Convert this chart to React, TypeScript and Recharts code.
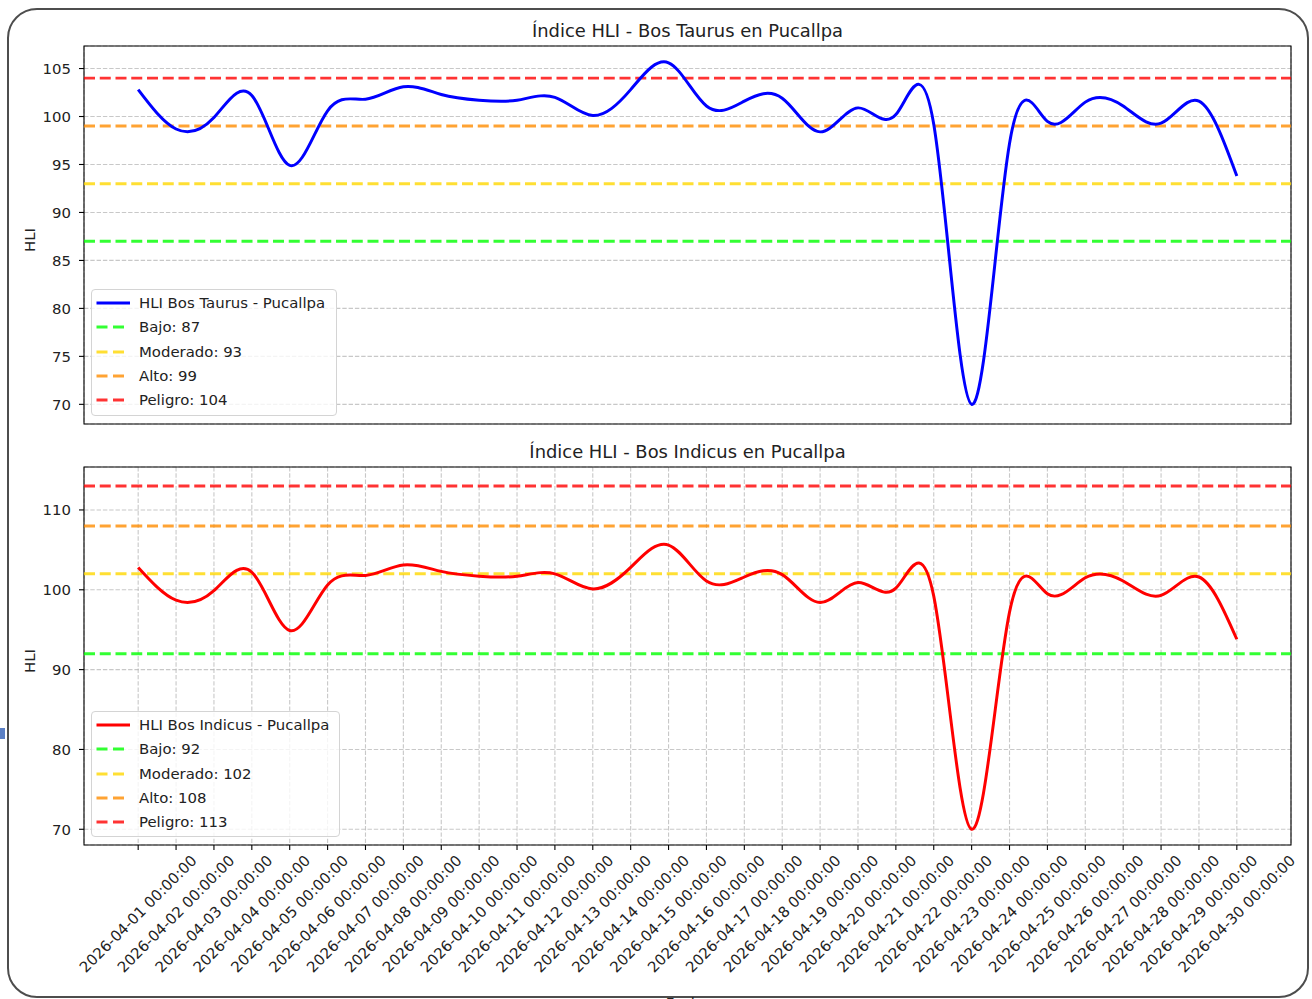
import { CartesianGrid, Legend, Line, LineChart, ReferenceArea, ReferenceLine, XAxis, YAxis } from "recharts";

const FONT = "'DejaVu Sans', sans-serif";

const dates = [
  "2026-04-01", "2026-04-02", "2026-04-03", "2026-04-04", "2026-04-05", "2026-04-06",
  "2026-04-07", "2026-04-08", "2026-04-09", "2026-04-10", "2026-04-11", "2026-04-12",
  "2026-04-13", "2026-04-14", "2026-04-15", "2026-04-16", "2026-04-17", "2026-04-18",
  "2026-04-19", "2026-04-20", "2026-04-21", "2026-04-22", "2026-04-23", "2026-04-24",
  "2026-04-25", "2026-04-26", "2026-04-27", "2026-04-28", "2026-04-29", "2026-04-30",
];

// daily HLI (both panels show the same series)
const hliTaurus = [
  102.8, 98.7, 99.9, 102.2, 94.9, 100.6, 101.8, 103.1, 102.3, 101.7,
  101.7, 102.0, 100.1, 102.8, 105.6, 101.1, 101.6, 101.9, 98.4, 100.9,
  100.2, 99.2, 70.0, 97.2, 99.5, 101.5, 101.1, 99.3, 101.6, 93.8,
];
const hliIndicus = [
  102.8, 98.7, 99.9, 102.2, 94.9, 100.6, 101.8, 103.1, 102.3, 101.7,
  101.7, 102.0, 100.1, 102.8, 105.6, 101.1, 101.6, 101.9, 98.4, 100.9,
  100.2, 99.2, 70.0, 97.2, 99.5, 101.5, 101.1, 99.3, 101.6, 93.8,
];

const levelNames = ["Bajo", "Moderado", "Alto", "Peligro"];
const levelColors = ["#00ff00", "#ffd700", "#ff8c00", "#ff0000"];
const taurusLimits = [87, 93, 99, 104];
const indicusLimits = [92, 102, 108, 113];

const taurusTicks = [70, 75, 80, 85, 90, 95, 100, 105];
const indicusTicks = [70, 80, 90, 100, 110];

const rows = dates.map((d, i) => ({ i, date: d, taurus: hliTaurus[i], indicus: hliIndicus[i] }));
const xTicks = dates.map((_, i) => i);
const X_DOMAIN: [number, number] = [-1.43, 30.43];

function DateTick(props: any) {
  const { x, y, payload } = props;
  const label = `${dates[payload.value]} 00:00:00`;
  return (
    <text
      transform={`translate(${x}, ${y + 64}) rotate(-45)`}
      textAnchor="middle"
      dominantBaseline="central"
      fontFamily={FONT}
      fontSize={14.9}
      fill="#222"
    >
      {label}
    </text>
  );
}

function legendContent(name: string, color: string, limits: number[], width: number, height: number) {
  const entries = [
    { text: name, color, dashed: false },
    ...limits.map((v, k) => ({ text: `${levelNames[k]}: ${v}`, color: levelColors[k], dashed: true })),
  ];
  return () => (
    <div
      style={{
        boxSizing: "border-box",
        width,
        height,
        border: "1px solid #d4d4d4",
        borderRadius: 4,
        background: "rgba(255,255,255,0.8)",
        fontFamily: FONT,
        fontSize: 14.9,
        color: "#222",
        paddingTop: 1,
      }}
    >
      {entries.map((e) => (
        <div key={e.text} style={{ display: "flex", alignItems: "center", height: 24.3 }}>
          <svg width={47} height={24} style={{ flex: "none" }}>
            <line
              x1={4.5}
              x2={e.dashed ? 33 : 38}
              y1={12}
              y2={12}
              stroke={e.color}
              strokeOpacity={e.dashed ? 0.8 : 1}
              strokeWidth={2.97}
              strokeDasharray={e.dashed ? "11 5.5" : undefined}
            />
          </svg>
          <span style={{ whiteSpace: "nowrap" }}>{e.text}</span>
        </div>
      ))}
    </div>
  );
}

type PanelProps = {
  top: number;
  height: number;
  marginTop: number;
  xHeight: number;
  dataKey: string;
  name: string;
  color: string;
  limits: number[];
  yDomain: [number, number];
  yTicks: number[];
  legendTop: number;
  legendWidth: number;
  legendHeight: number;
  showDates: boolean;
};

function Panel(p: PanelProps) {
  return (
    <div style={{ position: "absolute", left: 0, top: p.top }}>
      <LineChart width={1312} height={p.height} data={rows} margin={{ top: p.marginTop, right: 21, bottom: 0, left: 0 }}>
        <CartesianGrid stroke="#b0b0b0" strokeOpacity={0.7} strokeWidth={1.1} strokeDasharray="4.4 1.9" />
        <XAxis
          type="number"
          dataKey="i"
          domain={X_DOMAIN}
          ticks={xTicks}
          interval={0}
          allowDataOverflow
          height={p.xHeight}
          axisLine={false}
          tickSize={5}
          tickMargin={0}
          tickLine={{ stroke: "#000", strokeWidth: 1.1 }}
          tick={p.showDates ? <DateTick /> : false}
        />
        <YAxis
          type="number"
          domain={p.yDomain}
          ticks={p.yTicks}
          allowDataOverflow
          width={84}
          axisLine={false}
          tickSize={5}
          tickMargin={8}
          tickLine={{ stroke: "#000", strokeWidth: 1.1 }}
          tick={{ fontFamily: FONT, fontSize: 14.9, fill: "#222" }}
        />
        {p.limits.map((v, k) => (
          <ReferenceLine
            key={v}
            y={v}
            stroke={levelColors[k]}
            strokeOpacity={0.8}
            strokeWidth={2.97}
            strokeDasharray="11 4.75"
          />
        ))}
        <Line
          dataKey={p.dataKey}
          name={p.name}
          type="natural"
          stroke={p.color}
          strokeWidth={2.97}
          dot={false}
          isAnimationActive={false}
        />
        <ReferenceArea
          x1={X_DOMAIN[0]}
          x2={X_DOMAIN[1]}
          y1={p.yDomain[0]}
          y2={p.yDomain[1]}
          fill="none"
          stroke="#000"
          strokeWidth={1.1}
        />
        <Legend
          layout="vertical"
          align="center"
          verticalAlign="middle"
          wrapperStyle={{ left: 91, top: p.legendTop - p.top, width: p.legendWidth, height: p.legendHeight }}
          content={legendContent(p.name, p.color, p.limits, p.legendWidth, p.legendHeight)}
        />
      </LineChart>
    </div>
  );
}

export default function App() {
  return (
    <div style={{ position: "absolute", left: 0, top: 0, width: 1312, height: 999, overflow: "hidden", background: "#fff" }}>
      <div
        style={{
          position: "absolute",
          left: 7,
          top: 8,
          width: 1302,
          height: 990,
          boxSizing: "border-box",
          border: "2px solid #4d4d4d",
          borderRadius: 30,
        }}
      />
      <div style={{ position: "absolute", left: 0, top: 728, width: 5, height: 11, background: "#5b80c5" }} />
      <Panel
        top={0}
        height={440}
        marginTop={46}
        xHeight={16}
        dataKey="taurus"
        name="HLI Bos Taurus - Pucallpa"
        color="#0000ff"
        limits={taurusLimits}
        yDomain={[67.95, 107.35]}
        yTicks={taurusTicks}
        legendTop={289}
        legendWidth={246}
        legendHeight={127}
        showDates={false}
      />
      <Panel
        top={430}
        height={569}
        marginTop={37}
        xHeight={154}
        dataKey="indicus"
        name="HLI Bos Indicus - Pucallpa"
        color="#ff0000"
        limits={indicusLimits}
        yDomain={[68.03, 115.38]}
        yTicks={indicusTicks}
        legendTop={711}
        legendWidth={249}
        legendHeight={126}
        showDates
      />
      <svg width={1312} height={999} style={{ position: "absolute", left: 0, top: 0, pointerEvents: "none" }}>
        <g fontFamily={FONT} fill="#222">
          <text x={687.5} y={37.3} textAnchor="middle" fontSize={17.9}>
            Índice HLI - Bos Taurus en Pucallpa
          </text>
          <text x={687.5} y={458.3} textAnchor="middle" fontSize={17.9}>
            Índice HLI - Bos Indicus en Pucallpa
          </text>
          <text transform="translate(30, 240) rotate(-90)" textAnchor="middle" dominantBaseline="central" fontSize={14.9}>
            HLI
          </text>
          <text transform="translate(30, 661) rotate(-90)" textAnchor="middle" dominantBaseline="central" fontSize={14.9}>
            HLI
          </text>
          <text x={687.5} y={1007.5} textAnchor="middle" fontSize={14.9}>
            Fecha
          </text>
        </g>
      </svg>
    </div>
  );
}
